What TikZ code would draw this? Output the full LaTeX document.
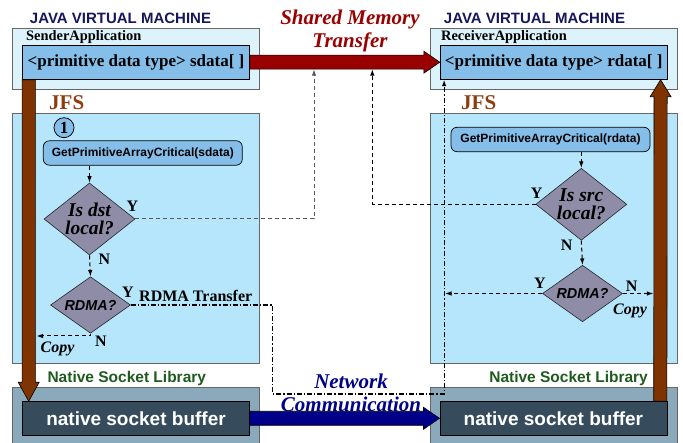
\documentclass[tikz,border=0pt]{standalone}
\usepackage{fontspec}
\setmainfont{Liberation Serif}
\setsansfont{Liberation Sans}
\usetikzlibrary{shapes.geometric,calc,arrows.meta}

\definecolor{jvmfill}{HTML}{DDF3FC}
\definecolor{jfsfill}{HTML}{B5E6FB}
\definecolor{datafill}{HTML}{85BFE9}
\definecolor{decfill}{HTML}{8E8CA7}
\definecolor{libfill}{HTML}{8AA9BB}
\definecolor{buffill}{HTML}{364B5B}
\definecolor{jvmtext}{HTML}{16165C}
\definecolor{jfsbrown}{HTML}{8E3E0E}
\definecolor{barbrown}{HTML}{7F3300}
\definecolor{shmred}{HTML}{990000}
\definecolor{netblue}{HTML}{000088}
\definecolor{libgreen}{HTML}{1F5A1F}

% fat arrow, left to right
\newcommand{\fatright}[3]{%
  \draw[fill=#3,line width=0.6pt] ($(#1)+(0,-7)$) -- ($(#2)+(-16,-7)$) -- ($(#2)+(-16,-11)$) -- (#2)
    -- ($(#2)+(-16,11)$) -- ($(#2)+(-16,7)$) -- ($(#1)+(0,7)$) -- cycle;}
% fat arrow, vertical (#4 = signed head length)
\newcommand{\fatvert}[4]{%
  \draw[fill=#3,line width=0.6pt] ($(#1)+(-6.6,0)$) -- ($(#2)+(-6.6,#4)$) -- ($(#2)+(-10.5,#4)$) -- (#2)
    -- ($(#2)+(10.5,#4)$) -- ($(#2)+(6.6,#4)$) -- ($(#1)+(6.6,0)$) -- cycle;}

\begin{document}
\begin{tikzpicture}[x=1pt,y=-1pt,>={Latex[length=6.5pt,width=4.5pt]},
  title/.style={text=jvmtext,font=\sffamily\bfseries\fontsize{15}{15}\selectfont,inner sep=0pt},
  appbox/.style={draw=black!60,line width=0.7pt,fill=jvmfill,minimum width=247,minimum height=61,inner sep=0pt},
  apptext/.style={font=\bfseries\fontsize{14.4}{14.4}\selectfont,inner sep=0pt},
  databox/.style={draw,line width=0.8pt,fill=datafill,minimum width=227,minimum height=34.3,inner sep=0pt,
    font=\bfseries\fontsize{17}{17}\selectfont},
  jfslabel/.style={text=jfsbrown,font=\bfseries\fontsize{21}{21}\selectfont,inner sep=0pt},
  jfsbox/.style={draw=black!60,line width=0.7pt,fill=jfsfill,minimum width=247,minimum height=250,inner sep=0pt},
  stepnum/.style={circle,draw,line width=0.8pt,fill=datafill,minimum size=20,inner sep=0pt,
    font=\bfseries\fontsize{17}{17}\selectfont},
  callbox/.style={draw,line width=0.7pt,fill=datafill,rounded corners=6pt,minimum width=199,minimum height=24.4,
    inner sep=0pt,font=\sffamily\bfseries\fontsize{12}{12}\selectfont},
  bigdec/.style={diamond,draw=black!85,line width=0.6pt,fill=decfill,minimum width=91,minimum height=72,inner sep=0pt},
  smalldec/.style={diamond,draw=black!85,line width=0.6pt,fill=decfill,minimum width=80,minimum height=56.5,inner sep=0pt},
  dectext/.style={align=center,inner sep=0pt,font=\bfseries\itshape\fontsize{19.5}{18}\selectfont},
  rdmatext/.style={inner sep=0pt,font=\sffamily\bfseries\itshape\fontsize{14.4}{14.4}\selectfont},
  yn/.style={inner sep=0pt,font=\bfseries\fontsize{16}{16}\selectfont},
  copytext/.style={inner sep=0pt,font=\bfseries\itshape\fontsize{16}{16}\selectfont},
  libtitle/.style={text=libgreen,inner sep=0pt,font=\sffamily\bfseries\fontsize{15.5}{15.5}\selectfont},
  libbox/.style={draw=black!60,line width=0.7pt,fill=libfill,minimum width=247,minimum height=60,inner sep=0pt},
  bufbox/.style={draw,line width=0.8pt,fill=buffill,text=white,minimum width=227,minimum height=33.3,inner sep=0pt,
    font=\sffamily\bfseries\fontsize{19}{19}\selectfont},
  bigtext/.style={align=center,inner sep=0pt,font=\bfseries\itshape\fontsize{21}{22.5}\selectfont},
  flow/.style={dash pattern=on 4pt off 3pt,->,line width=1pt},
  rdmaflow/.style={dash pattern=on 5pt off 2pt on 1.2pt off 2pt,->,line width=1.1pt}]

\useasboundingbox (0,0) rectangle (683,443);

% sender
\node[title] (sjvm) at (120.5,18.5) {JAVA VIRTUAL MACHINE};
\node[appbox] (sapp) at (135.8,58.8) {};
\node[apptext,anchor=west] (sappt) at (26,37.5) {SenderApplication};
\node[databox] (sdata) at (136,62.2) {<primitive data type> sdata[ ]};
\node[jfslabel,anchor=west] (sjfst) at (49,102.5) {JFS};
\node[jfsbox] (sjfs) at (135.8,238.3) {};
\node[stepnum] (one) at (64,127.7) {1};
\node[callbox] (gets) at (142.8,153) {GetPrimitiveArrayCritical(sdata)};
\node[bigdec,label={[dectext]center:Is dst\\local?}] (dst) at (89.5,219) {};
\node[smalldec,label={[rdmatext]center:RDMA?}] (rdmas) at (90.5,305) {};
\node[libtitle] (slibt) at (126.8,378) {Native Socket Library};
\node[libbox] (slib) at (135.8,417.7) {};
\node[bufbox] (sbuf) at (136,418.3) {native socket buffer};

% receiver
\node[title] (rjvm) at (534.5,18.5) {JAVA VIRTUAL MACHINE};
\node[appbox] (rapp) at (554,58.8) {};
\node[apptext,anchor=west] (rappt) at (441,37.5) {ReceiverApplication};
\node[databox] (rdata) at (553.7,62.2) {<primitive data type> rdata[ ]};
\node[jfslabel,anchor=west] (rjfst) at (461,102.5) {JFS};
\node[jfsbox] (rjfs) at (554,238.3) {};
\node[callbox] (getr) at (550.5,139.5) {GetPrimitiveArrayCritical(rdata)};
\node[bigdec,label={[dectext]center:Is src\\local?}] (src) at (581.3,204.3) {};
\node[smalldec,label={[rdmatext]center:RDMA?}] (rdmar) at (582.5,293.5) {};
\node[libtitle] (rlibt) at (568.6,378) {Native Socket Library};
\node[libbox] (rlib) at (554,417.7) {};
\node[bufbox] (rbuf) at (553.4,418.3) {native socket buffer};

% transfer texts
\node[bigtext,text=shmred] (shm) at (350,31) {Shared Memory\\Transfer};
\node[bigtext,text=netblue] (net) at (351,393) {Network\\Communication};

% fat arrows
\fatright{sdata.east}{rdata.west}{shmred}
\fatright{sbuf.east}{rbuf.west}{netblue}
\coordinate (sbartop) at ($(sdata.south west)+(6.6,0)$);
\coordinate (sbarend) at ($(sbuf.north west)+(6.6,0)$);
\fatvert{sbartop}{sbarend}{barbrown}{-19}
\coordinate (rbarfoot) at ($(rbuf.north east)+(-7,0)$);
\coordinate (rbarend) at ($(rdata.south east)+(-7,0)$);
\fatvert{rbarfoot}{rbarend}{barbrown}{17}

% sender flow
\coordinate (smta) at (314,69.2);
\coordinate (rda) at (272.7,394);
\coordinate (rdtip) at ($(rdata.south west)+(4.3,0)$);
\coordinate (scopy) at (36.5,336);
\draw[flow] (gets.south -| dst.north) -- (dst.north);
\draw[flow,black!65] (dst.east) -| (smta);
\draw[flow] (dst.south) -- (rdmas.north);
\draw[rdmaflow] (rdmas.east) -| (rda) -| (rdtip);
\draw[flow] (rdmas.south) |- (scopy);
\node[yn] (dsty) at (132.5,206.7) {Y};
\node[yn] (dstn) at (104.5,259) {N};
\node[yn] (rdsy) at (128,292.5) {Y};
\node[yn,anchor=west] (rdmat) at (139,296) {RDMA Transfer};
\node[yn] (rdsn) at (101,341) {N};
\node[copytext] (scp) at (57.5,348.5) {Copy};

% receiver flow
\coordinate (smtb) at (372.3,69.2);
\coordinate (rdmal) at (445,293.5);
\coordinate (rcopy) at (653.4,293.5);
\draw[flow] (getr.south -| src.north) -- (src.north);
\draw[flow] (src.west) -| (smtb);
\draw[flow] (src.south) -- (rdmar.north);
\draw[flow] (rdmar.west) -- (rdmal);
\draw[flow] (rdmar.east) -- (rcopy);
\node[yn] (srcy) at (536.7,193) {Y};
\node[yn] (srcn) at (566.7,245) {N};
\node[yn] (rdry) at (540,283.3) {Y};
\node[yn] (rdrn) at (631.7,286) {N};
\node[copytext] (rcp) at (630,311) {Copy};
\end{tikzpicture}
\end{document}
